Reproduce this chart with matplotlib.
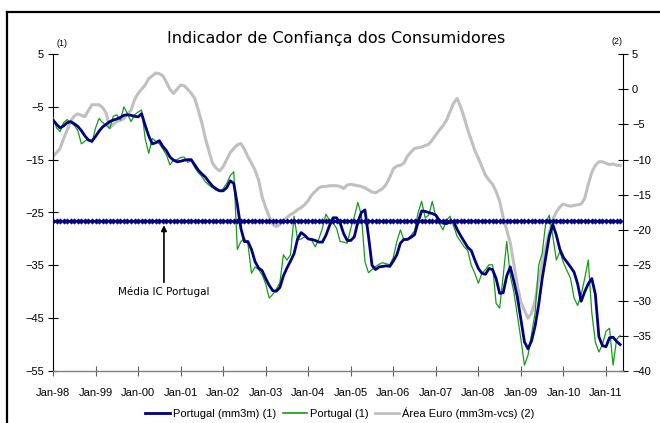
import matplotlib
matplotlib.use("Agg")
import matplotlib.pyplot as plt
from matplotlib.lines import Line2D
import numpy as np

# ---- data (monthly, Jan-98 .. May-11) ----
tick_labels = ["Jan-98", "Jan-99", "Jan-00", "Jan-01", "Jan-02", "Jan-03", "Jan-04",
               "Jan-05", "Jan-06", "Jan-07", "Jan-08", "Jan-09", "Jan-10", "Jan-11"]

portugal_mm3m = [
    -7.5, -8.3, -9.0, -8.6, -8.0, -7.8, -8.2, -8.7, -9.5, -10.5, -11.3, -11.5,
    -10.6, -9.6, -8.8, -8.3, -7.8, -7.5, -7.3, -7.0, -6.6, -6.5, -6.6, -6.8,
    -6.9, -6.3, -8.5, -10.5, -12.0, -11.8, -11.4, -12.5, -13.3, -14.5, -15.1, -15.4,
    -15.3, -15.1, -15.0, -15.0, -16.0, -17.0, -17.7, -18.3, -19.2, -20.0, -20.5, -20.9,
    -20.9, -20.3, -19.0, -19.5, -23.5, -28.0, -30.5, -30.5, -32.0, -34.3, -35.5, -36.0,
    -37.5, -38.8, -39.8, -39.9, -39.2, -37.0, -35.5, -34.2, -32.8, -30.0, -28.8, -29.3,
    -30.0, -30.1, -30.3, -30.6, -30.6, -29.3, -27.5, -26.0, -26.0, -27.0, -29.0, -30.3,
    -30.3, -29.6, -26.8, -25.0, -24.5, -29.5, -35.0, -35.8, -35.3, -35.2, -35.1, -35.2,
    -34.2, -33.0, -30.8, -30.1, -30.1, -29.7, -29.2, -26.8, -24.7, -24.8, -25.0, -25.2,
    -25.5, -26.5, -27.0, -27.1, -26.8, -26.7, -28.2, -29.4, -30.5, -31.6, -32.2, -34.0,
    -35.6, -36.5, -36.7, -35.6, -35.8, -37.5, -40.3, -40.2, -37.0, -35.3, -38.0, -41.0,
    -45.2, -49.5, -50.8, -49.3, -46.5, -42.5, -37.5, -33.5, -29.5, -27.3, -29.3, -32.0,
    -33.5, -34.4, -35.3, -36.3, -38.5, -41.8, -40.0, -38.5, -37.5, -40.5, -48.5, -50.2,
    -50.4, -48.7, -48.6, -49.4, -50.0,
]

portugal = [
    -7.0, -9.0, -9.7, -8.0, -7.4, -8.0, -8.5, -9.5, -12.0, -11.5, -11.0, -11.8,
    -9.0, -7.2, -8.0, -8.5, -9.1, -6.8, -6.5, -7.5, -5.0, -6.3, -7.8, -6.5,
    -6.0, -5.6, -11.0, -13.8, -11.0, -11.5, -12.0, -13.0, -14.1, -16.0, -15.0, -15.0,
    -14.6, -14.5, -15.5, -15.2, -16.5, -17.5, -18.2, -19.2, -19.8, -20.3, -20.8, -21.0,
    -20.5, -19.5, -18.0, -17.3, -32.0, -30.5, -29.9, -31.0, -36.5, -35.3, -35.8, -36.8,
    -38.5, -41.2, -40.5, -39.5, -38.3, -33.0, -34.0, -33.0, -25.7, -30.2, -30.0, -29.6,
    -30.0, -30.3, -31.5, -30.0, -28.0, -25.3, -26.5, -27.0, -28.0, -30.5, -30.6, -30.8,
    -28.0, -25.8, -23.1, -25.5, -34.3, -36.4, -35.8, -35.2, -34.8, -34.5, -34.7, -34.9,
    -33.5, -30.5, -28.3, -30.2, -30.0, -29.3, -28.5, -25.0, -22.9, -26.0, -25.5, -22.9,
    -25.8, -27.0, -28.3, -26.5, -25.7, -27.5, -29.5, -30.5, -31.5, -32.2, -35.0, -36.5,
    -38.4, -36.5, -35.8, -34.9, -34.9, -42.2, -43.1, -37.0, -30.5, -37.0, -40.0, -44.5,
    -49.0, -53.9, -52.0, -48.0, -44.0, -35.0, -32.7, -27.0, -25.5, -29.5, -34.0, -32.4,
    -34.5, -36.0, -37.5, -41.2, -42.6, -40.5, -37.5, -34.0, -44.0, -49.5, -51.4, -50.0,
    -47.5, -46.9, -53.9, -49.0, -48.3,
]

area_euro = [
    -9.5, -9.0, -8.4, -7.0, -5.8, -4.5, -3.8, -3.5, -3.7, -3.9, -3.0, -2.2,
    -2.2, -2.2, -2.6, -3.4, -5.5, -5.0, -4.6, -4.4, -4.2, -3.5, -3.0, -1.5,
    -0.6, 0.0, 0.6, 1.5, 1.9, 2.3, 2.2, 1.9, 1.0, 0.0, -0.6, 0.0,
    0.6, 0.5, 0.0, -0.6, -1.3, -3.0, -4.8, -7.0, -8.8, -10.5, -11.2, -11.6,
    -11.0, -10.0, -9.0, -8.4, -7.9, -7.7, -8.5, -9.6, -10.5, -11.5, -12.9, -15.3,
    -16.8, -18.1, -19.2, -19.5, -19.2, -18.6, -18.2, -17.8, -17.5, -17.1, -16.8, -16.4,
    -15.8, -15.0, -14.5, -14.0, -13.8, -13.8, -13.7, -13.7, -13.7, -13.8, -14.1, -13.6,
    -13.5, -13.6, -13.7, -13.8, -14.0, -14.3, -14.6, -14.7, -14.4, -14.1, -13.5, -12.5,
    -11.3, -10.9, -10.8, -10.5, -9.5, -8.9, -8.4, -8.3, -8.2, -8.0, -7.8, -7.2,
    -6.5, -5.8, -5.2, -4.4, -3.2, -2.0, -1.3, -2.5, -4.0, -5.8, -7.2, -8.7,
    -9.8, -11.0, -12.2, -12.9, -13.5, -14.5, -15.9, -18.2, -20.0, -21.8, -24.8, -27.9,
    -30.2, -31.4, -32.5, -31.8, -30.0, -27.0, -24.5, -22.3, -20.3, -18.5, -17.4, -16.7,
    -16.3, -16.5, -16.6, -16.5, -16.4, -16.3, -15.5, -13.5, -11.8, -10.8, -10.3, -10.3,
    -10.5, -10.7, -10.6, -10.8, -10.8,
]

media_ic_portugal = -26.6

labels = ["Portugal (mm3m) (1)", "Portugal (1)", "Área Euro (mm3m-vcs) (2)"]
title = "Indicador de Confiança dos Consumidores"
annotation = "Média IC Portugal"

# ---- figure ----
W, H = 660, 423
fig = plt.figure(figsize=(W / 100, H / 100), dpi=100)
fig.patch.set_facecolor("white")

def fx(px):
    return px / W

def fy(py):
    return 1 - py / H

ax = fig.add_axes([fx(53), fy(371), fx(623) - fx(53), fy(54) - fy(371)])
ax2 = ax.twinx()

months = np.arange(len(portugal))
navy = "#000080"
green = "#189A18"
grey = "#C0C0C0"

ax2.plot(np.arange(len(area_euro)), area_euro, color=grey, lw=2.2,
         solid_joinstyle="round", zorder=2)
ax.plot(months, portugal, color=green, lw=0.9, zorder=3)
ax.plot(np.arange(len(portugal_mm3m)), portugal_mm3m, color=navy, lw=2.0,
        solid_joinstyle="round", zorder=4)
ax.plot(months, [media_ic_portugal] * len(months), color=navy, lw=1.4,
        marker="D", markersize=2.8, markeredgewidth=0.3, zorder=5)

ax.set_zorder(ax2.get_zorder() + 1)
ax.patch.set_visible(False)

xmax = 160.8
ax.set_xlim(0, xmax)
ax.set_ylim(-55, 5)
ax2.set_ylim(-40, 5)

ax.set_xticks(np.arange(len(tick_labels)) * 12)
ax.set_xticklabels(tick_labels)
ax.set_yticks(np.arange(5, -56, -10))
ax2.set_yticks(np.arange(5, -41, -5))

for lab in ax.get_xticklabels() + ax.get_yticklabels() + ax2.get_yticklabels():
    lab.set_fontfamily("Liberation Sans")
    lab.set_fontsize(8)

ax.tick_params(axis="x", direction="inout", length=7, width=0.8, color="#606060", pad=9)
ax.tick_params(axis="y", direction="inout", length=7, width=0.8, color="black", pad=3)
ax2.tick_params(axis="y", direction="inout", length=7, width=0.8, color="black", pad=3)

for a in (ax, ax2):
    a.spines["top"].set_visible(False)
ax.spines["right"].set_visible(False)
ax2.spines["left"].set_visible(False)
ax2.spines["bottom"].set_visible(False)
ax.spines["left"].set_color("black")
ax.spines["left"].set_linewidth(0.8)
ax2.spines["right"].set_color("black")
ax2.spines["right"].set_linewidth(0.8)
ax.spines["bottom"].set_color("#808080")
ax.spines["bottom"].set_linewidth(1.0)

# axis unit markers
fig.text(fx(62), fy(43), "(1)", fontsize=6.5, family="Liberation Sans", ha="center", va="center")
fig.text(fx(617), fy(42), "(2)", fontsize=6.5, family="Liberation Sans", ha="center", va="center")

# title
fig.text(fx(336), fy(39), title, fontsize=11.5, family="DejaVu Sans", ha="center", va="center")

# annotation
ax.annotate(annotation, xy=(31.3, -27.4), xytext=(31.3, -40.0),
            ha="center", va="center", fontsize=7.5, family="DejaVu Sans",
            arrowprops=dict(arrowstyle="-|>", color="black", lw=1.2,
                            mutation_scale=8, shrinkA=1, shrinkB=0))

# legend
handles = [Line2D([], [], color=navy, lw=2.0),
           Line2D([], [], color=green, lw=1.2),
           Line2D([], [], color=grey, lw=2.0)]
leg = fig.legend(handles, labels, loc="center", bbox_to_anchor=(fx(340), fy(413)),
                 ncol=3, frameon=False, prop=dict(family="Liberation Sans", size=8),
                 handlelength=2.2, handletextpad=0.25, columnspacing=0.6)

# outer frame (left and top edges visible)
fig.add_artist(Line2D([fx(7), fx(7)], [0, fy(12)], color="black", lw=1.6,
                      transform=fig.transFigure))
fig.add_artist(Line2D([fx(7), 1], [fy(12), fy(12)], color="black", lw=1.6,
                      transform=fig.transFigure))

fig.savefig("out.png", dpi=100)
